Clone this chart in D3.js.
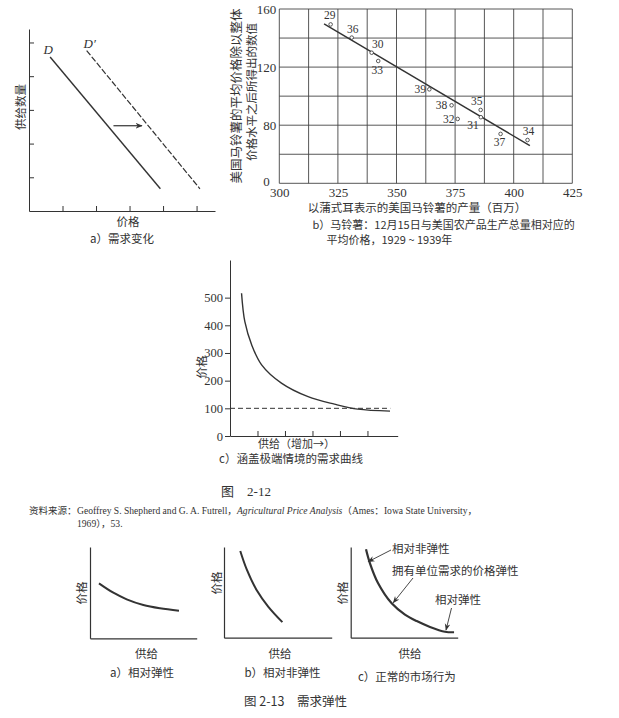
<!DOCTYPE html>
<html>
<head>
<meta charset="utf-8">
<script src="https://cdn.jsdelivr.net/npm/d3@7"></script>
<style>
  body { margin: 0; background: #fff; }
  svg text { fill: #333; }
  .serif { font-family: "Liberation Serif", "Noto Sans CJK SC", serif; }
  .cjk { font-family: "Noto Sans CJK SC", sans-serif; }
</style>
</head>
<body>
<svg id="page" width="619" height="718"></svg>
<script>
// ---- data, fig 2-12 a (shift of demand) ----
const shiftTicks = [1, 2, 3, 4, 5];
const demandD = [[0.63, 4.57], [3.92, 0.66]];
const demandD2 = [[1.72, 4.76], [5.10, 0.66]];
const shiftArrow = [[2.52, 2.53], [3.37, 2.53]];

// ---- data, fig 2-12 b (potatoes 1929-1939) ----
const potatoYears = ["29", "36", "30", "33", "39", "38", "32", "35", "31", "37", "34"];
const potatoOutput = [321.9, 330.9, 339.4, 342.2, 364.0, 373.5, 376.1, 385.9, 386.0, 394.4, 405.9];
const potatoPrice = [149.4, 140.3, 129.9, 124.2, 104.7, 93.7, 84.3, 90.5, 85.5, 74.0, 69.8];
const potatoFit = [[319.1, 149.7], [406.9, 65.9]];
const outputTicks = [300, 325, 350, 375, 400, 425];
const priceTicks = [40, 80, 120, 160];
const priceTickLabels = ["0", "80", "120", "160"];

// ---- data, fig 2-12 c (extreme demand curve) ----
const extremeSupply = [0.42, 0.54, 0.79, 1.15, 1.87, 2.84, 3.80, 4.65, 5.82];
const extremePrice = [516, 413, 329, 257, 191, 142, 115, 97, 90];
const extremeRef = 100;
const extremeYTicks = [0, 100, 200, 300, 400, 500];
const extremeXTicks = [1, 2, 3, 4, 5];

// ---- data, fig 2-13 (elasticity sketches, axes 0..1) ----
const elasticSupply = [0.084, 0.219, 0.344, 0.50, 0.656, 0.834];
const elasticPrice = [0.602, 0.499, 0.427, 0.365, 0.329, 0.302];
const inelasticSupply = [0.151, 0.211, 0.304, 0.412, 0.542];
const inelasticPrice = [0.956, 0.753, 0.523, 0.341, 0.172];
const normalSupply = [0.143, 0.180, 0.255, 0.383, 0.507, 0.617, 0.741, 0.881, 0.966];
const normalPrice = [0.975, 0.820, 0.603, 0.379, 0.255, 0.183, 0.119, 0.066, 0.060];
const normalNotes = ["相对非弹性", "拥有单位需求的价格弹性", "相对弹性"];
const noteSupply = [0.164, 0.398, 0.891];
const notePrice = [0.838, 0.386, 0.085];

const ink = "#333";
const svg = d3.select("#page");

svg.append("defs").append("marker")
    .attr("id", "head")
    .attr("viewBox", "0 0 10 10")
    .attr("refX", 9).attr("refY", 5)
    .attr("markerWidth", 7).attr("markerHeight", 7)
    .attr("markerUnits", "userSpaceOnUse")
    .attr("orient", "auto")
    .append("path")
    .attr("d", "M0,1 L10,5 L0,9 L3,5 Z")
    .attr("fill", ink);

function label(g, x, y, s, size, cls, anchor) {
    return g.append("text")
        .attr("class", cls || "cjk")
        .attr("x", x).attr("y", y)
        .attr("font-size", size)
        .attr("text-anchor", anchor || "middle")
        .text(s);
}

function vlabel(g, x, y, s, size) {
    return g.append("text")
        .attr("class", "cjk")
        .attr("transform", `translate(${x},${y}) rotate(-90)`)
        .attr("font-size", size)
        .attr("text-anchor", "middle")
        .attr("dominant-baseline", "central")
        .text(s);
}

function inkAxis(sel) {
    sel.selectAll(".domain, .tick line").attr("stroke", ink);
    sel.selectAll("text").attr("fill", ink);
}

// ================= fig 2-12 a =================
{
    const g = svg.append("g");
    const x = d3.scaleLinear().domain([0, 5.55]).range([29, 215]);
    const y = d3.scaleLinear().domain([0, 5.4]).range([211, 29]);

    g.append("g").attr("transform", "translate(0,211)")
        .call(d3.axisBottom(x).tickValues(shiftTicks).tickSize(-5).tickSizeOuter(0).tickFormat(""))
        .call(inkAxis);
    g.append("g").attr("transform", "translate(29,0)")
        .call(d3.axisLeft(y).tickValues(shiftTicks).tickSize(-5).tickSizeOuter(0).tickFormat(""))
        .call(inkAxis);

    const line = d3.line().x(d => x(d[0])).y(d => y(d[1]));
    g.append("path").attr("d", line(demandD))
        .attr("fill", "none").attr("stroke", ink).attr("stroke-width", 1.4);
    g.append("path").attr("d", line(demandD2))
        .attr("fill", "none").attr("stroke", ink).attr("stroke-width", 1.2)
        .attr("stroke-dasharray", "6,2");
    g.append("path").attr("d", line(shiftArrow))
        .attr("fill", "none").attr("stroke", ink).attr("stroke-width", 1.2)
        .attr("marker-end", "url(#head)");

    label(g, x(demandD[0][0]) - 2, y(demandD[0][1]) - 3, "D", 13, "serif").attr("font-style", "italic");
    label(g, x(demandD2[0][0]) + 3, y(demandD2[0][1]) - 3, "D′", 13, "serif").attr("font-style", "italic");

    vlabel(g, 20, 107, "供给数量", 11.5);
    label(g, 128, 226, "价格", 11.5);
    label(g, 122, 243, "a）需求变化", 11.5);
}

// ================= fig 2-12 b =================
{
    const g = svg.append("g");
    const x = d3.scaleLinear().domain([300, 425]).range([279.3, 572.3]);
    const y = d3.scaleLinear().domain([40, 160]).range([183.3, 9]);

    // grid
    g.selectAll("line.vgrid").data(d3.range(300, 425.1, 12.5)).join("line")
        .attr("class", "vgrid")
        .attr("x1", d => x(d)).attr("x2", d => x(d))
        .attr("y1", y(40)).attr("y2", y(160))
        .attr("stroke", "#444").attr("stroke-width", 0.9);
    g.selectAll("line.hgrid").data(d3.range(40, 160.1, 20)).join("line")
        .attr("class", "hgrid")
        .attr("x1", x(300)).attr("x2", x(425))
        .attr("y1", d => y(d)).attr("y2", d => y(d))
        .attr("stroke", "#444").attr("stroke-width", 0.9);

    g.append("g").attr("transform", `translate(0,${y(40)})`)
        .call(d3.axisBottom(x).tickValues(outputTicks).tickSize(0).tickPadding(4.5))
        .call(a => a.select(".domain").remove())
        .call(a => a.selectAll("text").attr("class", "serif").attr("font-size", 13).attr("fill", ink));
    g.append("g").attr("transform", `translate(${x(300)},0)`)
        .call(d3.axisLeft(y).tickValues(priceTicks).tickFormat((d, i) => priceTickLabels[i]).tickSize(0).tickPadding(3))
        .call(a => a.select(".domain").remove())
        .call(a => a.selectAll("text").attr("class", "serif").attr("font-size", 13).attr("fill", ink))
        .call(a => a.selectAll(".tick").filter(d => d === 40).select("text").attr("x", -9.5).attr("dy", "0.2em"));

    const line = d3.line().x(d => x(d[0])).y(d => y(d[1]));
    g.append("path").attr("d", line(potatoFit))
        .attr("fill", "none").attr("stroke", ink).attr("stroke-width", 1.4);

    const pts = potatoYears.map((yr, i) => ({ yr, q: potatoOutput[i], p: potatoPrice[i] }));
    g.selectAll("circle.pt").data(pts).join("circle")
        .attr("class", "pt")
        .attr("cx", d => x(d.q)).attr("cy", d => y(d.p))
        .attr("r", 1.8)
        .attr("fill", "#fff").attr("stroke", ink).attr("stroke-width", 0.8);

    // label offsets from each point (px), by year
    const off = {
        "29": [-1, -5], "36": [1, -5], "30": [6, -5], "33": [-1, 13],
        "39": [-9, 4], "38": [-10, 4], "32": [-9, 4], "35": [-4, -5],
        "31": [-8, 12], "37": [-1, 12], "34": [1, -5]
    };
    g.selectAll("text.yr").data(pts).join("text")
        .attr("class", "serif")
        .attr("x", d => x(d.q) + off[d.yr][0])
        .attr("y", d => y(d.p) + off[d.yr][1])
        .attr("font-size", 11.5)
        .attr("text-anchor", "middle")
        .attr("fill", ink)
        .text(d => d.yr);

    vlabel(g, 235, 96, "美国马铃薯的平均价格除以整体", 12.5);
    vlabel(g, 250.5, 92, "价格水平之后所得出的数值", 11.5);
    label(g, 417, 212, "以蒲式耳表示的美国马铃薯的产量（百万）", 11.5);
    label(g, 312.5, 229, "b）马铃薯：12月15日与美国农产品生产总量相对应的", 11, "cjk", "start");
    label(g, 326.5, 243.5, "平均价格，1929 ~ 1939年", 11, "cjk", "start");
}

// ================= fig 2-12 c =================
{
    const g = svg.append("g");
    const x = d3.scaleLinear().domain([0, 6.1]).range([230, 397.7]);
    const y = d3.scaleLinear().domain([0, 636]).range([436, 260]);

    g.append("g").attr("transform", "translate(0,436)")
        .call(d3.axisBottom(x).tickValues(extremeXTicks).tickSize(-5).tickSizeOuter(0).tickFormat(""))
        .call(inkAxis);
    g.append("g").attr("transform", "translate(230,0)")
        .call(d3.axisLeft(y).tickValues(extremeYTicks).tickSize(5).tickSizeOuter(0).tickPadding(2))
        .call(inkAxis)
        .call(a => a.selectAll("text").attr("class", "serif").attr("font-size", 12.5));

    g.append("line")
        .attr("x1", x(0)).attr("x2", x(5.83))
        .attr("y1", y(extremeRef)).attr("y2", y(extremeRef))
        .attr("stroke", ink).attr("stroke-width", 1)
        .attr("stroke-dasharray", "5,3");

    const line = d3.line().x(d => x(d[0])).y(d => y(d[1])).curve(d3.curveCatmullRom);
    g.append("path").attr("d", line(extremeSupply.map((s, i) => [s, extremePrice[i]])))
        .attr("fill", "none").attr("stroke", ink).attr("stroke-width", 1.4);

    vlabel(g, 200.5, 367, "价格", 11.5);
    label(g, 258, 448, "供给（增加→）", 11, "cjk", "start");
    label(g, 291, 462.5, "c）涵盖极端情境的需求曲线", 11.5);
}

// ================= captions between figures =================
{
    const g = svg.append("g");
    label(g, 246, 496, "图　2-12", 13, "serif");
    label(g, 29, 514, "资料来源：", 9.5, "cjk", "start").attr("fill", "#555");
    const src = g.append("text").attr("class", "serif").attr("x", 77).attr("y", 514).attr("font-size", 9.6);
    src.append("tspan").text("Geoffrey S. Shepherd and G. A. Futrell，");
    src.append("tspan").attr("font-style", "italic").text("Agricultural Price Analysis");
    src.append("tspan").text("（Ames：Iowa State University，");
    label(g, 77, 527, "1969），53.", 9.6, "serif", "start");
}

// ================= fig 2-13 =================
function sketch(left, right, top, bottom, supply, price, width) {
    const g = svg.append("g");
    const x = d3.scaleLinear().domain([0, 1]).range([left, right]);
    const y = d3.scaleLinear().domain([0, 1]).range([bottom, top]);
    g.append("g").attr("transform", `translate(0,${bottom})`)
        .call(d3.axisBottom(x).tickValues([]).tickSizeOuter(0))
        .call(inkAxis).select(".domain").attr("stroke-width", 1.2);
    g.append("g").attr("transform", `translate(${left},0)`)
        .call(d3.axisLeft(y).tickValues([]).tickSizeOuter(0))
        .call(inkAxis).select(".domain").attr("stroke-width", 1.2);
    const line = d3.line().x(d => x(d[0])).y(d => y(d[1])).curve(d3.curveCatmullRom);
    g.append("path").attr("d", line(supply.map((s, i) => [s, price[i]])))
        .attr("fill", "none").attr("stroke", ink).attr("stroke-width", width);
    return { g, x, y };
}

{
    const a = sketch(90, 196.7, 547, 638.3, elasticSupply, elasticPrice, 2);
    vlabel(a.g, 80.5, 593, "价格", 11.5);
    label(a.g, 146.5, 658, "供给", 11.5);
    label(a.g, 142, 677, "a）相对弹性", 11.5);

    const b = sketch(224, 331.7, 547, 637.7, inelasticSupply, inelasticPrice, 2);
    vlabel(b.g, 216, 583, "价格", 11.5);
    label(b.g, 280, 658, "供给", 11.5);
    label(b.g, 282.5, 677, "b）相对非弹性", 11.5);

    const c = sketch(350.7, 457.7, 547, 637.7, normalSupply, normalPrice, 2.2);
    vlabel(c.g, 341.5, 593, "价格", 11.5);
    label(c.g, 410, 658, "供给", 11.5);
    label(c.g, 358, 681, "c）正常的市场行为", 11.5, "cjk", "start");

    // note text position and arrow tail (px)
    const notePos = [[392, 553, 391, 550], [392, 575, 413, 578], [435, 604, 451.5, 608]];
    normalNotes.forEach((s, i) => {
        const [tx, ty, ax, ay] = notePos[i];
        label(c.g, tx, ty, s, 11.5, "cjk", "start");
        c.g.append("line")
            .attr("x1", ax).attr("y1", ay)
            .attr("x2", c.x(noteSupply[i])).attr("y2", c.y(notePrice[i]))
            .attr("stroke", ink).attr("stroke-width", 0.9)
            .attr("marker-end", "url(#head)");
    });

    label(svg, 244, 706, "图 2-13　需求弹性", 12.5, "cjk", "start");
}
</script>
</body>
</html>
